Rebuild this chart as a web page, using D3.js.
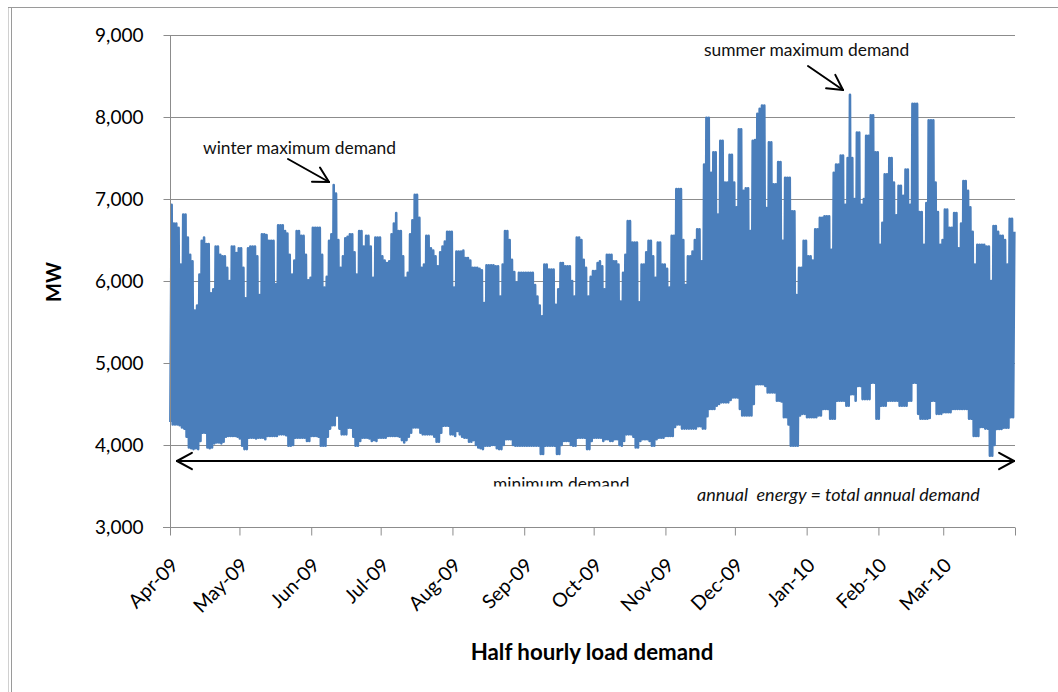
<!DOCTYPE html>
<html><head><meta charset="utf-8">
<script src="https://cdn.jsdelivr.net/npm/d3@7"></script>
<style>body{margin:0;background:#fff}svg{display:block}</style>
</head><body>
<svg id="chart" width="1058" height="692"></svg>
<script>
// ---- data ----
const yTicks = [3000, 4000, 5000, 6000, 7000, 8000, 9000];
const monthLabels = ["Apr-09","May-09","Jun-09","Jul-09","Aug-09","Sep-09","Oct-09","Nov-09","Dec-09","Jan-10","Feb-10","Mar-10",""];
const yTitle = "MW";
const xTitle = "Half hourly load demand";
// daily peak (MW), from 1 Apr 2009, one value per day
const dailyPeak = [
6930,6700,6700,6650,6200,6810,6810, 6530,6320,6240,5640,5700,6080,6490,
6530,6450,6450,5850,5900,6420,6420, 6320,6300,6300,6160,6000,6420,6420,
6340,6400,6400,6160,5790,6400,6420, 6420,6420,6300,5830,6570,6570,6560,
6490,6490,6490,5960,6680,6680,6680, 6610,6580,6320,6080,6250,6610,6610,
6550,6550,6320,6010,6040,6650,6650, 6650,6650,6320,5920,6050,6490,6570,
7170,7065,6500,6160,6300,6520,6540, 6570,6570,6350,6080,6610,6610,6420,
6550,6550,6420,6040,6530,6530,6530, 6300,6250,6220,6240,6570,6700,6830,
6610,6610,6300,6040,6100,6570,6740, 7050,7050,6770,6160,6200,6550,6550,
6400,6370,6300,6180,6350,6420,6480, 6600,6600,6600,5920,6360,6360,6360,
6370,6280,6280,6250,6160,6160,6160, 6150,6130,5730,6190,6190,6190,6190,
6180,6180,5810,6200,6610,6610,6500, 6260,6110,5980,6100,6100,6100,6100,
6100,6100,6100,5950,5810,5700,5570, 6200,6200,6140,6140,6140,5710,5900,
6220,6220,6180,6180,6180,6000,5810, 6530,6530,6500,6260,6160,5810,6050,
6120,6120,6220,6240,6180,5900,6320, 6320,6320,6240,6240,6200,5750,6100,
6320,6730,6730,6470,6470,6470,5740, 6200,6200,6350,6490,6490,6300,6040,
6470,6470,6200,6200,6150,5920,6550, 6550,7120,7120,7120,6500,5950,6300,
6300,6360,6500,6630,6630,6240,7420, 7990,7990,7320,7570,7570,6810,7710,
7710,7200,7200,7540,7540,7200,6900, 7850,7850,7100,7130,7130,6610,7710,
7720,8040,8100,8140,8140,6890,7690, 7690,7180,7180,7450,7450,6490,7260,
7260,7260,6850,6850,5830,6160,6160, 6490,6490,6300,6300,6250,6630,6630,
6770,6770,6790,6790,6790,6380,7320, 7420,7420,7530,7530,6930,7500,8270,
7500,7000,7810,7810,6930,7000,7770, 7770,8020,8020,7570,7570,6440,6710,
7300,7300,7500,7500,7200,6800,7160, 7160,7040,7360,7360,6930,8160,8160,
8160,6840,6840,6440,6950,7960,7960, 7960,7200,6840,6440,6500,6870,6870,
6650,6650,6830,6830,6400,6700,7220, 7220,7100,6900,6600,6200,6440,6440,
6440,6440,6420,6420,6000,6670,6670, 6600,6550,6550,6500,6200,6760,6760,
6600];
// daily trough (MW), from 1 Apr 2009, one value per day
const dailyTrough = [
4280,4250,4250,4250,4240,4215,4200, 4100,3970,3960,3950,3960,3950,4050,
4150,4150,3970,3960,3970,4020,4030, 4030,4020,4040,4100,4110,4110,4110,
4110,4100,4080,3990,3950,3950,4090, 4090,4090,4080,4090,4090,4090,4070,
4110,4110,4110,4110,4110,4130,4130, 4130,4120,3990,3990,4000,4090,4090,
4090,4090,4090,4050,4050,4110,4110, 4110,4100,3990,3990,3990,4100,4200,
4240,4240,4360,4200,4130,4130,4130, 4210,4210,4100,3990,3990,4050,4090,
4090,4090,4080,4050,4060,4050,4090, 4090,4090,4090,4110,4110,4110,4110,
4110,4100,4060,4030,4060,4100,4150, 4215,4215,4215,4150,4130,4130,4130,
4130,4130,4100,4040,4040,4150,4235, 4235,4235,4130,4130,4110,4170,4130,
4100,4090,4090,4040,4040,4060,4000, 3970,3960,3950,3990,3990,3990,4000,
4000,3960,3950,3950,4000,4070,4070, 4070,4000,3990,3990,3990,3990,3990,
3990,3990,3990,3990,3990,3990,3890, 3890,3990,3990,3990,3990,3990,3890,
3890,4000,4050,4050,4050,4000,3990, 3990,4090,4090,4090,4090,3950,3950,
4050,4090,4090,4090,4090,4050,4070, 4070,4050,4050,4070,4070,4000,3990,
4050,4130,4130,4130,4100,3970,3970, 4050,4070,4070,4070,4050,3990,3990,
4070,4090,4090,4090,4110,4110,4110, 4110,4220,4250,4250,4200,4200,4200,
4200,4200,4200,4200,4230,4230,4200, 4200,4350,4440,4440,4440,4480,4500,
4520,4520,4520,4520,4550,4580,4580, 4580,4440,4360,4360,4360,4360,4360,
4500,4740,4740,4740,4740,4720,4640, 4640,4640,4640,4540,4540,4530,4340,
4340,4250,3990,3990,3990,3990,4360, 4380,4380,4340,4340,4340,4340,4340,
4360,4360,4440,4440,4440,4320,4320, 4320,4540,4540,4540,4540,4480,4480,
4620,4620,4540,4720,4720,4560,4560, 4560,4560,4760,4760,4320,4320,4480,
4480,4480,4540,4540,4540,4540,4540, 4480,4480,4480,4480,4540,4540,4760,
4760,4380,4320,4320,4320,4320,4330, 4540,4540,4380,4380,4380,4400,4400,
4400,4400,4440,4440,4440,4440,4440, 4440,4440,4320,4320,4110,4110,4110,
4220,4220,4200,4200,3870,3870,4000, 4195,4195,4195,4210,4210,4210,4340,
4340];

// ---- chart ----
const svg = d3.select("#chart");
const FONT = "Lato, 'Open Sans', sans-serif";
const start = new Date(2009, 3, 1), end = new Date(2010, 3, 1);
const x = d3.scaleTime().domain([start, end]).range([170, 1015]);
const y = d3.scaleLinear().domain([3000, 9000]).range([527, 35]);

// chart frame
svg.append("line").attr("x1", 8.5).attr("x2", 8.5).attr("y1", 7).attr("y2", 692).attr("stroke", "#d0d0d0");
svg.append("line").attr("x1", 11.5).attr("x2", 11.5).attr("y1", 7).attr("y2", 692).attr("stroke", "#9a9a9a");
svg.append("line").attr("x1", 8).attr("x2", 1058).attr("y1", 7.5).attr("y2", 7.5).attr("stroke", "#9a9a9a");

// gridlines
svg.append("g").selectAll("line").data(yTicks.filter(v => v > 3000)).join("line")
  .attr("x1", 170).attr("x2", 1015)
  .attr("y1", d => Math.round(y(d)) + 0.5).attr("y2", d => Math.round(y(d)) + 0.5)
  .attr("stroke", "#8c8c8c").attr("stroke-width", 1);

// series: half-hourly load approximated by daily trough/peak swing
const pts = [];
dailyPeak.forEach((p, i) => {
  pts.push({ t: d3.timeHour.offset(d3.timeDay.offset(start, i), 4), v: dailyTrough[i] });
  pts.push({ t: d3.timeHour.offset(d3.timeDay.offset(start, i), 17), v: p });
});
svg.append("path").datum(pts)
  .attr("fill", "none").attr("stroke", "#4a7ebb").attr("stroke-width", 2.6)
  .attr("stroke-linejoin", "round")
  .attr("d", d3.line().x(d => x(d.t)).y(d => y(d.v)));

// y axis
const yAxis = svg.append("g").attr("transform", "translate(170.5,0)")
  .call(d3.axisLeft(y).tickValues(yTicks).tickSize(7).tickPadding(20).tickFormat(d3.format(",")));
yAxis.select(".domain").attr("stroke", "#8c8c8c").attr("d", "M0,35V527");
yAxis.selectAll(".tick line").attr("stroke", "#8c8c8c");
yAxis.selectAll("text").attr("font-family", FONT).attr("font-size", 19).attr("fill", "#000");

// x axis
const monthTicks = d3.timeMonth.range(start, d3.timeDay.offset(end, 1));
const xAxis = svg.append("g").attr("transform", "translate(0,527.5)")
  .call(d3.axisBottom(x).tickValues(monthTicks).tickSize(8).tickFormat((d, i) => monthLabels[i]));
xAxis.select(".domain").attr("stroke", "#8c8c8c").attr("d", "M163,0H1015");
xAxis.selectAll(".tick line").attr("stroke", "#8c8c8c");
xAxis.selectAll("text")
  .attr("font-family", FONT).attr("font-size", 19.5).attr("fill", "#000")
  .attr("text-anchor", "end").attr("y", 0).attr("dy", 0)
  .attr("transform", "translate(9,39) rotate(-45)");

// axis titles
svg.append("text").attr("transform", "translate(61,282) rotate(-90)")
  .attr("text-anchor", "middle").attr("font-family", FONT).attr("font-weight", "bold")
  .attr("font-size", 20).text(yTitle);
svg.append("text").attr("x", 592).attr("y", 660)
  .attr("text-anchor", "middle").attr("font-family", FONT).attr("font-weight", "bold")
  .attr("font-size", 22.3).text(xTitle);

// annotations
const note = (tx, ty, s, size, extra) => {
  const t = svg.append("text").attr("x", tx).attr("y", ty).attr("font-family", FONT)
    .attr("font-size", size).attr("fill", "#111").text(s);
  if (extra) extra(t);
  return t;
};
note(203, 154, "winter maximum demand", 17.4);
note(704, 56, "summer maximum demand", 17.4);
svg.append("clipPath").attr("id", "clipMin").append("rect").attr("x", 0).attr("y", 0).attr("width", 1058).attr("height", 486.5);
note(493, 490, "minimum demand", 17.4, t => t.attr("clip-path", "url(#clipMin)"));
note(697, 501, "annual  energy = total annual demand", 18, t => t.attr("font-style", "italic").attr("xml:space", "preserve").style("white-space", "pre"));

const arrow = (x1, y1, x2, y2, hl) => {
  const a = Math.atan2(y2 - y1, x2 - x1);
  const g = svg.append("g").attr("stroke", "#000").attr("stroke-width", 2).attr("fill", "none").attr("stroke-linecap", "round");
  g.append("line").attr("x1", x1).attr("y1", y1).attr("x2", x2).attr("y2", y2);
  [-0.5, 0.5].forEach(da => {
    g.append("line").attr("x1", x2).attr("y1", y2)
      .attr("x2", x2 - hl * Math.cos(a + da)).attr("y2", y2 - hl * Math.sin(a + da));
  });
};
arrow(288, 159, 329, 182, 17);
arrow(808, 66, 843, 90, 17);
arrow(600, 461, 177, 461, 17);
arrow(600, 461, 1014, 461, 17);
</script>
</body></html>
